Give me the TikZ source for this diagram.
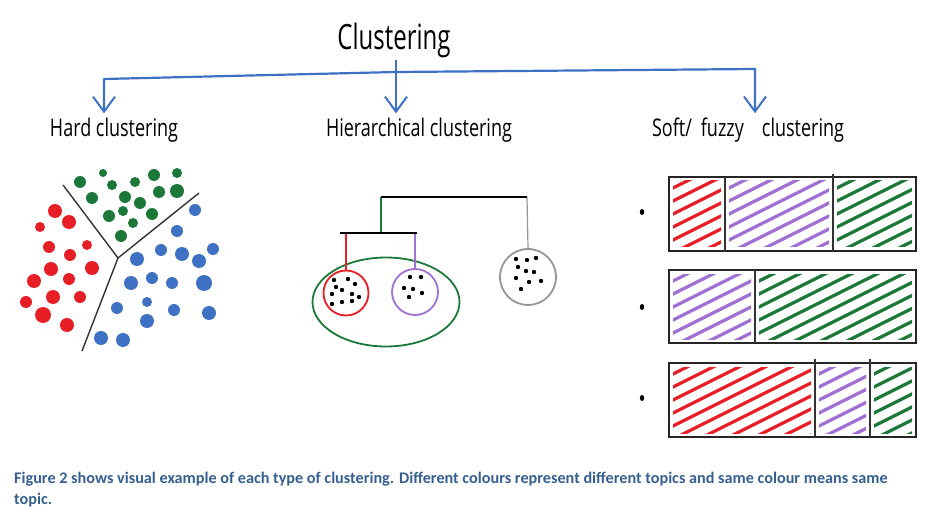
\documentclass[tikz,border=0pt]{standalone}
\usepackage{fontspec}
\setmainfont{Open Sans}
\newfontfamily\capfont{Carlito}
\usetikzlibrary{arrows.meta, shapes.geometric}
\definecolor{clred}{RGB}{232,30,38}
\definecolor{clgreen}{RGB}{28,120,56}
\definecolor{clblue}{RGB}{62,112,196}
\definecolor{clpurple}{RGB}{158,112,212}
\definecolor{clgray}{RGB}{150,150,150}
\definecolor{capblue}{RGB}{54,95,145}
\tikzset{
    branch/.style={draw=clblue, line width=2.2pt, line join=round},
    tip/.style={branch, -{Straight Barb[length=15pt, width=22pt, line width=2pt]}, shorten >=3pt},
    hand/.style={font=\fontsize{18}{20}\selectfont, inner sep=2pt, anchor=base},
    split/.style={draw=black!80, line width=1.4pt},
    bar/.style={draw=black, line width=1.2pt},
    stem/.style={line width=1.2pt},
    group/.style={circle, draw, line width=1.8pt, inner sep=0pt},
    hatch/.style={line width=3.2pt, line cap=round},
    strip/.style={draw=black!85, line width=1.5pt}
}
\newcommand{\tall}[1]{\scalebox{1}[1.35]{#1}}
\newcommand{\hatchpart}[5]{%
    \begin{scope}
        \clip (#1+4,#2+4) rectangle (#3-4,#4-4);
        \pgfmathsetmacro{\cfrom}{#2+0.5*#1}
        \pgfmathsetmacro{\cnext}{\cfrom+13}
        \pgfmathsetmacro{\cto}{#4+0.5*#3}
        \foreach \c in {\cfrom,\cnext,...,\cto}
            \draw[hatch, #5] (#1,{\c-0.5*#1}) -- (#3,{\c-0.5*#3});
    \end{scope}}

\begin{document}
\begin{tikzpicture}[x=1pt, y=-1pt]
    \useasboundingbox (0,0) rectangle (929,513);

    % Title and branches
    \node[font=\fontsize{24}{26}\selectfont, inner sep=1pt, anchor=base] (clust) at (394,50) {\scalebox{1}[1.45]{Clustering}};
    \node[hand] (hard) at (114,137) {\tall{Hard clustering}};
    \node[hand] (hier) at (419,137) {\tall{Hierarchical clustering}};
    \node[hand] (soft) at (748,137) {\tall{Soft/\hspace{9pt}fuzzy\hspace{18pt}clustering}};
    \coordinate (hub) at (396,72);
    \coordinate (lcorner) at (104,79);
    \coordinate (rcorner) at (755,69);
    \draw[tip] (clust.south -| hub) -- (hier.north -| hub);
    \draw[tip] (hub) -- (lcorner) -- (hard.north -| lcorner);
    \draw[tip] (hub) -- (rcorner) -- (soft.north -| rcorner);

    % Hard clustering
    \coordinate (mid) at (118,258);
    \draw[split] (63,185) -- (mid) -- (199,193);
    \draw[split] (mid) -- (82,351);
    \foreach \x/\y/\r in {80/182/6, 103/173/4, 112/185/5, 135/182/5, 154/175/6, 177/173/5,
        92/198/6, 125/197/6, 140/203/6, 159/192/6, 177/191/7, 109/216/6, 123/211/5,
        152/214/6, 133/223/5, 121/236/6}
        \fill[clgreen] (\x,\y) circle (\r pt);
    \foreach \x/\y/\r in {55/211/7, 69/222/7, 40/227/5, 49/247/6, 87/245/5, 70/255/6,
        51/269/7, 92/268/7, 34/281/7, 69/279/6, 53/297/7, 80/297/6, 26/302/6, 43/315/8,
        67/325/7}
        \fill[clred] (\x,\y) circle (\r pt);
    \foreach \x/\y/\r in {195/210/6, 177/231/6, 161/250/6, 182/254/7, 213/249/6,
        137/259/7, 199/261/7, 131/283/7, 152/278/6, 172/283/6, 204/283/8, 117/308/6,
        147/302/5, 174/310/6, 209/313/7, 147/321/7, 101/338/7, 123/340/7}
        \fill[clblue] (\x,\y) circle (\r pt);

    % Hierarchical clustering
    \node[ellipse, draw=clgreen, line width=1.8pt, minimum width=147pt, minimum height=89pt, inner sep=0pt] (greenset) at (386,302) {};
    \node[group, draw=clred, minimum size=45pt] (redc) at (346,293) {};
    \node[group, draw=clpurple, minimum size=46pt] (purc) at (415,292) {};
    \node[group, draw=clgray, minimum size=56pt] (grayc) at (528,277) {};
    \coordinate (topl) at (381,197);
    \coordinate (topr) at (527,197);
    \coordinate (lowl) at (340,233);
    \coordinate (lowm) at (381,233);
    \coordinate (lowr) at (417,233);
    \draw[stem, clgreen] (topl) -- (lowm);
    \draw[stem, clred] (lowl -| redc.north) -- (redc.north);
    \draw[stem, clpurple] (lowr -| purc.north) -- (purc.north);
    \draw[stem, clgray] (topr) -- (grayc.north);
    \draw[bar] (topl) -- (topr);
    \draw[bar] (lowl) -- (lowr);
    \foreach \x/\y in {334/280, 348/279, 355/284, 336/287, 342/290, 332/294, 352/294,
        359/297, 342/302, 352/301, 332/304, 410/277, 421/277, 404/288, 413/289, 422/293,
        409/297, 516/259, 527/260, 536/258, 518/267, 526/271, 534/272, 516/278, 529/282,
        541/281, 521/289}
        \fill (\x,\y) circle (2.2pt);

    % Soft / fuzzy clustering
    \hatchpart{669}{177}{725}{251}{clred}
    \hatchpart{725}{177}{833}{251}{clpurple}
    \hatchpart{833}{177}{916}{251}{clgreen}
    \hatchpart{669}{270}{755}{343}{clpurple}
    \hatchpart{755}{270}{916}{343}{clgreen}
    \hatchpart{669}{363}{815}{437}{clred}
    \hatchpart{815}{363}{870}{437}{clpurple}
    \hatchpart{870}{363}{916}{437}{clgreen}
    \draw[strip] (669,177) rectangle (916,251);
    \draw[strip] (669,270) rectangle (916,343);
    \draw[strip] (669,363) rectangle (916,437);
    \draw[stem, black!80] (725,177) -- (725,251);
    \draw[stem, black!80] (833,174) -- (833,251);
    \draw[stem, black!80] (755,270) -- (755,343);
    \draw[stem, black!80] (815,359) -- (815,437);
    \draw[stem, black!80] (870,359) -- (870,437);
    \foreach \y in {212,307,398}
        \fill (642,\y) ellipse (2.2pt and 3pt);

    % Caption
    \node[anchor=base west, align=left, inner sep=0pt, text=capblue,
        font=\capfont\bfseries\fontsize{16.2}{21}\selectfont] (caption) at (14,504)
        {Figure 2 shows visual example of each type of clustering. Different colours represent different topics and same colour means same\\topic.};
\end{tikzpicture}
\end{document}
